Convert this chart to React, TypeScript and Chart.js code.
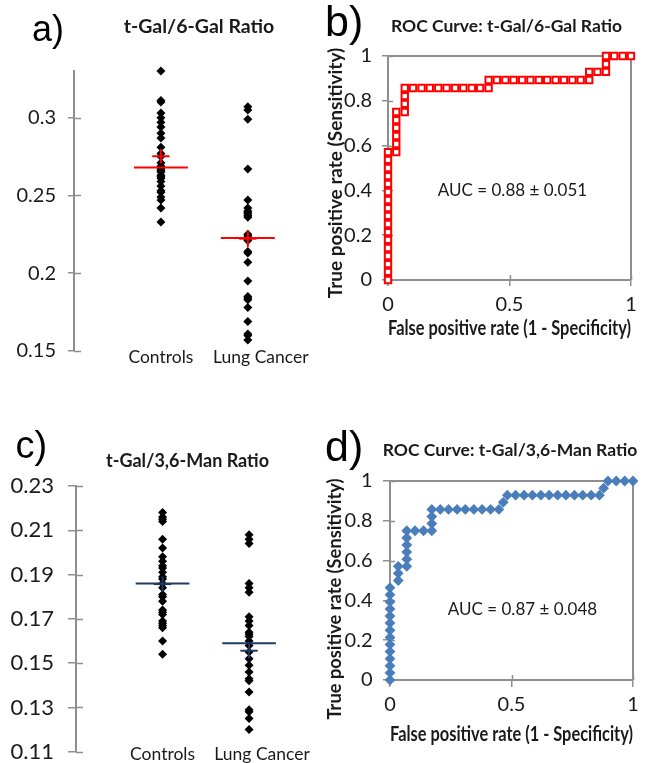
import React, { useEffect, useRef } from "react";
import { Chart, registerables } from "chart.js";

Chart.register(...registerables);

// ---------------- data ----------------
const categories = ["Controls", "Lung Cancer"];
const categoryLabelAt = [1, 2.15];

// a) t-Gal/6-Gal ratio
const galControls = [0.330, 0.311, 0.310, 0.303, 0.300, 0.297, 0.294, 0.290, 0.287, 0.281, 0.277, 0.275, 0.271, 0.269, 0.268, 0.267, 0.266, 0.265, 0.263, 0.262, 0.261, 0.259, 0.256, 0.253, 0.252, 0.249, 0.247, 0.242, 0.233];
const galCancer = [0.307, 0.305, 0.299, 0.267, 0.247, 0.242, 0.240, 0.239, 0.238, 0.237, 0.236, 0.225, 0.224, 0.223, 0.222, 0.221, 0.214, 0.213, 0.207, 0.195, 0.185, 0.184, 0.183, 0.178, 0.169, 0.161, 0.160, 0.157];
const galCenter = [0.268, 0.2226];
const galMean = [0.2752, 0.2222];
const galSem = [0.0045, 0.0054];
const galTicks = [0.15, 0.2, 0.25, 0.3];

// c) t-Gal/3,6-Man ratio
const manControls = [0.218, 0.216, 0.215, 0.214, 0.206, 0.202, 0.198, 0.196, 0.194, 0.193, 0.191, 0.189, 0.188, 0.186, 0.184, 0.181, 0.180, 0.178, 0.174, 0.173, 0.172, 0.169, 0.168, 0.167, 0.166, 0.160, 0.154];
const manCancer = [0.208, 0.206, 0.204, 0.186, 0.184, 0.182, 0.171, 0.169, 0.167, 0.164, 0.163, 0.162, 0.160, 0.158, 0.155, 0.152, 0.149, 0.146, 0.143, 0.142, 0.137, 0.129, 0.128, 0.125, 0.120];
const manCenter = [0.186, 0.159];
const manMean = [0.1857, 0.1556];
const manSem = [0.0034, 0.0034];
const manTicks = [0.11, 0.13, 0.15, 0.17, 0.19, 0.21, 0.23];

// b) ROC t-Gal/6-Gal
const rocGalFpr = [
  0, 0, 0, 0, 0, 0, 0, 0, 0, 0, 0, 0, 0, 0, 0, 0, 0,
  0.034, 0.034, 0.034, 0.034, 0.034, 0.034,
  0.069, 0.069, 0.069, 0.069,
  0.103, 0.138, 0.172, 0.207, 0.241, 0.276, 0.31, 0.345, 0.379, 0.414,
  0.414,
  0.448, 0.483, 0.517, 0.552, 0.586, 0.621, 0.655, 0.69, 0.724, 0.759, 0.793, 0.828,
  0.828,
  0.862, 0.897,
  0.897, 0.897,
  0.931, 0.966, 1,
];
const rocGalTpr = [
  0, 0.036, 0.071, 0.107, 0.143, 0.179, 0.214, 0.25, 0.286, 0.321, 0.357, 0.393, 0.429, 0.464, 0.5, 0.536, 0.571,
  0.571, 0.607, 0.643, 0.679, 0.714, 0.75,
  0.75, 0.786, 0.821, 0.857,
  0.857, 0.857, 0.857, 0.857, 0.857, 0.857, 0.857, 0.857, 0.857, 0.857,
  0.893,
  0.893, 0.893, 0.893, 0.893, 0.893, 0.893, 0.893, 0.893, 0.893, 0.893, 0.893, 0.893,
  0.929,
  0.929, 0.929,
  0.964, 1,
  1, 1, 1,
];

// d) ROC t-Gal/3,6-Man
const rocManFpr = [
  0, 0, 0, 0, 0, 0, 0, 0, 0, 0, 0, 0, 0, 0,
  0.034, 0.034, 0.034,
  0.069, 0.069, 0.069, 0.069, 0.069, 0.069,
  0.103, 0.138, 0.172,
  0.172, 0.172, 0.172,
  0.207, 0.241, 0.276, 0.31, 0.345, 0.379, 0.414, 0.448,
  0.466, 0.483,
  0.517, 0.552, 0.586, 0.621, 0.655, 0.69, 0.724, 0.759, 0.793, 0.828, 0.862,
  0.879, 0.897,
  0.931, 0.966, 1,
];
const rocManTpr = [
  0, 0.036, 0.071, 0.107, 0.143, 0.179, 0.214, 0.25, 0.286, 0.321, 0.357, 0.393, 0.429, 0.464,
  0.5, 0.536, 0.571,
  0.571, 0.607, 0.643, 0.679, 0.714, 0.75,
  0.75, 0.75, 0.75,
  0.786, 0.821, 0.857,
  0.857, 0.857, 0.857, 0.857, 0.857, 0.857, 0.857, 0.857,
  0.893, 0.929,
  0.929, 0.929, 0.929, 0.929, 0.929, 0.929, 0.929, 0.929, 0.929, 0.929, 0.929,
  0.964, 1,
  1, 1, 1,
];
const rocYTicks = [0, 0.2, 0.4, 0.6, 0.8, 1];
const rocXTicks = [0, 0.5, 1];

// ---------------- styles ----------------
const FONT = "Lato, 'Open Sans', sans-serif";
const LETTER_FONT = "'Liberation Sans', Arial, sans-serif";
const INK = "#1a1a1a";
const GREY = "#8f8f8f";
const LONG_HALF = 0.31;
const SHORT_HALF = 0.1;

const axisDecor = {
  id: "axisDecor",
  beforeDatasetsDraw(chart: any, _args: any, opts: any) {
    const { ctx, chartArea: a, scales } = chart;
    ctx.save();
    ctx.strokeStyle = opts.color;
    ctx.lineWidth = opts.width;
    if (opts.yInside) {
      for (const t of scales.y.ticks) {
        const p = Math.round(scales.y.getPixelForValue(t.value)) + 0.5;
        ctx.beginPath();
        ctx.moveTo(a.left, p);
        ctx.lineTo(a.left + opts.yInside, p);
        ctx.stroke();
      }
    }
    if (opts.xInside) {
      for (const t of scales.x.ticks) {
        const p = Math.round(scales.x.getPixelForValue(t.value)) + 0.5;
        ctx.beginPath();
        ctx.moveTo(p, a.bottom);
        ctx.lineTo(p, a.bottom - opts.xInside);
        ctx.stroke();
      }
    }
    if (opts.frame) {
      ctx.lineWidth = opts.frameWidth;
      ctx.beginPath();
      ctx.moveTo(a.left, a.top);
      ctx.lineTo(a.right, a.top);
      ctx.lineTo(a.right, a.bottom);
      ctx.stroke();
    }
    ctx.restore();
  },
};

function segment(x0: number, y0: number, x1: number, y1: number, color: string) {
  return {
    type: "scatter" as const,
    data: [{ x: x0, y: y0 }, { x: x1, y: y1 }],
    showLine: true,
    borderColor: color,
    borderWidth: 2,
    pointRadius: 0,
    order: 0,
    clip: false as const,
  };
}

function dotConfig(
  groups: number[][],
  center: number[],
  mean: number[],
  sem: number[],
  ticks: number[],
  yMin: number,
  yMax: number,
  lineColor: string,
  g: any
) {
  const datasets: any[] = [];
  groups.forEach((vals, i) => {
    const cx = i + 1;
    datasets.push({
      data: vals.map((v) => ({ x: cx, y: v })),
      pointStyle: "rectRot",
      pointRadius: 4.5,
      pointHoverRadius: 4.5,
      backgroundColor: "#000",
      borderWidth: 0,
      order: 1,
      clip: false,
    });
    datasets.push(segment(cx - LONG_HALF, center[i], cx + LONG_HALF, center[i], lineColor));
    datasets.push(segment(cx - SHORT_HALF, mean[i], cx + SHORT_HALF, mean[i], lineColor));
    datasets.push(segment(cx, mean[i] - sem[i], cx, mean[i] + sem[i], lineColor));
  });
  return {
    type: "scatter" as const,
    data: { datasets },
    plugins: [axisDecor],
    options: {
      animation: false as const,
      responsive: false,
      events: [],
      layout: { padding: g.padding },
      plugins: {
        legend: { display: false },
        tooltip: { enabled: false },
        axisDecor: { color: GREY, width: 1.5, yInside: g.yInside, xInside: 0, frame: false },
      },
      scales: {
        x: {
          type: "linear" as const,
          min: 0,
          max: 2.75,
          afterBuildTicks: (s: any) => {
            s.ticks = categoryLabelAt.map((v) => ({ value: v }));
          },
          afterFit: (s: any) => {
            s.height = g.xHeight;
          },
          grid: { display: false, drawTicks: false, tickLength: 0 },
          border: { display: false },
          ticks: {
            autoSkip: false,
            maxRotation: 0,
            mirror: true,
            padding: g.xLabelPad,
            color: INK,
            font: { family: FONT, size: g.catSize },
            callback: (v: any) => categories[categoryLabelAt.indexOf(v)] ?? "",
          },
        },
        y: {
          type: "linear" as const,
          min: yMin,
          max: yMax,
          afterBuildTicks: (s: any) => {
            s.ticks = ticks.map((v) => ({ value: v }));
          },
          afterFit: (s: any) => {
            s.width = g.yWidth;
          },
          grid: {
            display: true,
            drawOnChartArea: false,
            drawTicks: true,
            tickLength: g.yOutside,
            color: GREY,
            lineWidth: 1.5,
          },
          border: { display: true, color: GREY, width: 2 },
          ticks: {
            padding: g.yLabelPad,
            color: INK,
            font: { family: FONT, size: g.tickSize },
            callback: (v: any) => String(v),
          },
        },
      },
    },
  };
}

function rocConfig(fpr: number[], tpr: number[], markers: any, g: any) {
  return {
    type: "scatter" as const,
    data: {
      datasets: [
        {
          data: fpr.map((x, i) => ({ x, y: tpr[i] })),
          ...markers,
          showLine: false,
          clip: false,
        },
      ],
    },
    plugins: [axisDecor],
    options: {
      animation: false as const,
      responsive: false,
      events: [],
      layout: { padding: g.padding },
      plugins: {
        legend: { display: false },
        tooltip: { enabled: false },
        axisDecor: {
          color: GREY,
          width: 1.5,
          yInside: g.inside,
          xInside: g.inside,
          frame: true,
          frameWidth: 2,
        },
      },
      scales: {
        x: {
          type: "linear" as const,
          min: 0,
          max: 1,
          afterBuildTicks: (s: any) => {
            s.ticks = rocXTicks.map((v) => ({ value: v }));
          },
          afterFit: (s: any) => {
            s.height = g.xHeight;
          },
          grid: {
            display: true,
            drawOnChartArea: false,
            drawTicks: true,
            tickLength: g.outside,
            color: GREY,
            lineWidth: 1.5,
          },
          border: { display: true, color: GREY, width: 2 },
          ticks: {
            padding: g.xLabelPad,
            maxRotation: 0,
            color: INK,
            font: { family: FONT, size: g.tickSize },
            callback: (v: any) => String(v),
          },
          title: {
            display: true,
            text: "False positive rate (1 - Specificity)",
            color: INK,
            padding: { top: 0, bottom: 0 },
            font: { family: FONT, size: g.titleSize, weight: "bold" as const },
          },
        },
        y: {
          type: "linear" as const,
          min: 0,
          max: 1,
          afterBuildTicks: (s: any) => {
            s.ticks = rocYTicks.map((v) => ({ value: v }));
          },
          afterFit: (s: any) => {
            s.width = g.yWidth;
          },
          grid: {
            display: true,
            drawOnChartArea: false,
            drawTicks: true,
            tickLength: g.outside,
            color: GREY,
            lineWidth: 1.5,
          },
          border: { display: true, color: GREY, width: 2 },
          ticks: {
            padding: g.yLabelPad,
            color: INK,
            font: { family: FONT, size: g.tickSize },
            callback: (v: any) => String(v),
          },
        },
      },
    },
  };
}

const abs = (s: React.CSSProperties): React.CSSProperties => ({ position: "absolute", ...s });

function Letter({ text, left, top, size }: { text: string; left: number; top: number; size: number }) {
  return (
    <div style={abs({ left, top, fontFamily: LETTER_FONT, fontSize: size, lineHeight: 1, color: "#000" })}>{text}</div>
  );
}

function Centered({ text, cx, top, size, bold }: { text: string; cx: number; top: number; size: number; bold?: boolean }) {
  return (
    <div
      style={abs({
        left: cx - 160,
        width: 320,
        top,
        textAlign: "center",
        fontFamily: FONT,
        fontSize: size,
        fontWeight: bold ? 700 : 400,
        lineHeight: 1,
        color: INK,
        whiteSpace: "nowrap",
      })}
    >
      {text}
    </div>
  );
}

function VTitle({ text, cx, cy, size }: { text: string; cx: number; cy: number; size: number }) {
  return (
    <div
      style={abs({
        left: cx,
        top: cy,
        transform: "translate(-50%, -50%) rotate(-90deg)",
        fontFamily: FONT,
        fontSize: size,
        fontWeight: 700,
        lineHeight: 1,
        color: INK,
        whiteSpace: "nowrap",
      })}
    >
      {text}
    </div>
  );
}

export default function App() {
  const aRef = useRef<HTMLCanvasElement>(null);
  const bRef = useRef<HTMLCanvasElement>(null);
  const cRef = useRef<HTMLCanvasElement>(null);
  const dRef = useRef<HTMLCanvasElement>(null);

  useEffect(() => {
    const charts: Chart[] = [];
    charts.push(
      new Chart(
        aRef.current!,
        dotConfig([galControls, galCancer], galCenter, galMean, galSem, galTicks, 0.15, 0.33, "#ff0000", {
          padding: { left: 0, top: 31, right: 7, bottom: 4 },
          yWidth: 74,
          xHeight: 25,
          yOutside: 6,
          yInside: 7,
          yLabelPad: 12,
          tickSize: 20,
          catSize: 17.5,
          xLabelPad: -17.3,
        }) as any
      )
    );
    charts.push(
      new Chart(
        cRef.current!,
        dotConfig([manControls, manCancer], manCenter, manMean, manSem, manTicks, 0.11, 0.23, "#1f3864", {
          padding: { left: 0, top: 56, right: 6, bottom: 37 },
          yWidth: 76,
          xHeight: 11.3,
          yOutside: 8,
          yInside: 7,
          yLabelPad: 14,
          tickSize: 22,
          catSize: 17.5,
          xLabelPad: -13,
        }) as any
      )
    );
    charts.push(
      new Chart(
        bRef.current!,
        rocConfig(
          rocGalFpr,
          rocGalTpr,
          {
            pointStyle: "rect",
            pointRadius: 4.5,
            pointHoverRadius: 4.5,
            backgroundColor: "#ffffff",
            borderColor: "#ff0000",
            borderWidth: 2,
          },
          {
            padding: { left: 0, top: 56, right: 16, bottom: 39 },
            yWidth: 68,
            xHeight: 61,
            outside: 6,
            inside: 5,
            yLabelPad: 10,
            xLabelPad: 7,
            tickSize: 20,
            titleSize: 20,
          }
        ) as any
      )
    );
    charts.push(
      new Chart(
        dRef.current!,
        rocConfig(
          rocManFpr,
          rocManTpr,
          {
            pointStyle: "rectRot",
            pointRadius: 5.4,
            pointHoverRadius: 5.4,
            backgroundColor: "#4a7ebb",
            borderWidth: 0,
          },
          {
            padding: { left: 0, top: 51, right: 14, bottom: 16 },
            yWidth: 70,
            xHeight: 67,
            outside: 7,
            inside: 5,
            yLabelPad: 10.5,
            xLabelPad: 6,
            tickSize: 20,
            titleSize: 20,
          }
        ) as any
      )
    );
    return () => charts.forEach((c) => c.destroy());
  }, []);

  return (
    <div style={abs({ left: 0, top: 0, width: 647, height: 763, overflow: "hidden", background: "#fff" })}>
      <canvas ref={aRef} width={320} height={340} style={abs({ left: 0, top: 40 })} />
      <canvas ref={bRef} width={327} height={380} style={abs({ left: 320, top: 0 })} />
      <canvas ref={cRef} width={320} height={370} style={abs({ left: 0, top: 430 })} />
      <canvas ref={dRef} width={327} height={333} style={abs({ left: 320, top: 430 })} />

      <Letter text="a)" left={32} top={11} size={36} />
      <Letter text="b)" left={325} top={0.3} size={43} />
      <Letter text="c)" left={15.5} top={426} size={38} />
      <Letter text="d)" left={325} top={425.3} size={43} />

      <Centered text="t-Gal/6-Gal Ratio" cx={199} top={16.2} size={19.5} bold />
      <Centered text="ROC Curve: t-Gal/6-Gal Ratio" cx={506.5} top={17.2} size={17.5} bold />
      <Centered text="t-Gal/3,6-Man Ratio" cx={187.5} top={451.3} size={18} bold />
      <Centered text="ROC Curve: t-Gal/3,6-Man Ratio" cx={510} top={441.2} size={17.5} bold />

      <Centered text="AUC = 0.88 ± 0.051" cx={512.5} top={180.9} size={17} />
      <Centered text="AUC = 0.87 ± 0.048" cx={522.5} top={599.9} size={17} />

      <VTitle text="True positive rate (Sensitivity)" cx={334} cy={173} size={19} />
      <VTitle text="True positive rate (Sensitivity)" cx={334} cy={598.5} size={18.3} />
    </div>
  );
}
